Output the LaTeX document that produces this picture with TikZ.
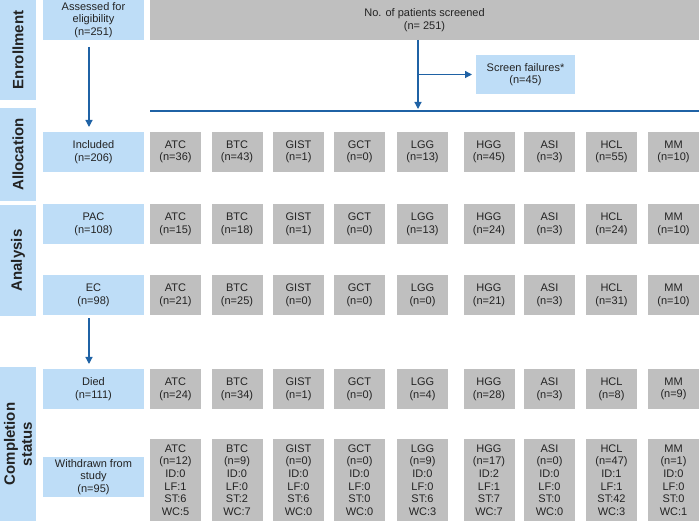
\documentclass[tikz,border=0pt]{standalone}
\usepackage{fontspec}
\setmainfont{Liberation Sans}
\usetikzlibrary{arrows.meta,positioning}
\definecolor{boxblue}{RGB}{190,221,247}
\definecolor{boxgray}{RGB}{191,191,191}
\definecolor{flowblue}{RGB}{31,98,165}
\definecolor{txt}{RGB}{35,35,35}

\begin{document}
\begin{tikzpicture}[x=1pt,y=-1pt,
  every node/.style={inner sep=0pt,outer sep=0pt,text=txt,font=\fontsize{11}{12.6}\selectfont},
  section/.style={rectangle,fill=boxblue,rotate=90,align=center,minimum height=36pt,font=\fontsize{15}{17}\selectfont\bfseries},
  stage/.style={rectangle,fill=boxblue,align=center,minimum width=101pt,minimum height=40pt},
  group/.style={rectangle,fill=boxgray,align=center,minimum width=51pt,minimum height=40pt},
  groupdetail/.style={group,minimum height=82pt},
  flow/.style={-{Triangle[length=7pt,width=7pt]},color=flowblue,line width=1.2pt},
  divider/.style={color=flowblue,line width=1.3pt}]
\useasboundingbox (0,0) rectangle (699,521);
% section bars
\node[section,minimum width=100pt] (enroll) at (18,50) {Enrollment};
\node[section,minimum width=93pt] (allocation) at (18,154.5) {Allocation};
\node[section,minimum width=111pt] (analysis) at (18,260.5) {Analysis};
\node[section,minimum width=154pt] (completion) at (18,444) {Completion\\status};
% enrollment
\node[stage] (assessed) at (93.5,20) {Assessed for\\eligibility\\(n=251)};
\node[group,minimum width=549pt] (screened) at (424.5,20) {No. of patients screened\\(n= 251)};
\node[stage,minimum width=99pt,minimum height=39pt] (failures) at (525.5,74.5) {Screen failures*\\(n=45)};
\coordinate (split) at (418,74.5);
\coordinate (alloc) at (418,111);
\coordinate (allocL) at (150,111);
\coordinate (allocR) at (699,111);
% stages
\node[stage] (included) at (93.5,152) {Included\\(n=206)};
\node[stage] (pac) at (93.5,224.5) {PAC\\(n=108)};
\node[stage] (ec) at (93.5,295.5) {EC\\(n=98)};
\node[stage] (died) at (93.5,389) {Died\\(n=111)};
\node[stage] (withdrawn) at (93.5,477) {Withdrawn from\\study\\(n=95)};
% included
\node[group] (incATC) at (175.5,152) {ATC\\(n=36)};
\node[group] (incBTC) at (237,152) {BTC\\(n=43)};
\node[group] (incGIST) at (298.5,152) {GIST\\(n=1)};
\node[group] (incGCT) at (359.5,152) {GCT\\(n=0)};
\node[group] (incLGG) at (422.5,152) {LGG\\(n=13)};
\node[group] (incHGG) at (489,152) {HGG\\(n=45)};
\node[group] (incASI) at (549.5,152) {ASI\\(n=3)};
\node[group] (incHCL) at (611.5,152) {HCL\\(n=55)};
\node[group] (incMM) at (673.5,152) {MM\\(n=10)};
% PAC
\node[group] (pacATC) at (175.5,224.5) {ATC\\(n=15)};
\node[group] (pacBTC) at (237,224.5) {BTC\\(n=18)};
\node[group] (pacGIST) at (298.5,224.5) {GIST\\(n=1)};
\node[group] (pacGCT) at (359.5,224.5) {GCT\\(n=0)};
\node[group] (pacLGG) at (422.5,224.5) {LGG\\(n=13)};
\node[group] (pacHGG) at (489,224.5) {HGG\\(n=24)};
\node[group] (pacASI) at (549.5,224.5) {ASI\\(n=3)};
\node[group] (pacHCL) at (611.5,224.5) {HCL\\(n=24)};
\node[group] (pacMM) at (673.5,224.5) {MM\\(n=10)};
% EC
\node[group] (ecATC) at (175.5,295.5) {ATC\\(n=21)};
\node[group] (ecBTC) at (237,295.5) {BTC\\(n=25)};
\node[group] (ecGIST) at (298.5,295.5) {GIST\\(n=0)};
\node[group] (ecGCT) at (359.5,295.5) {GCT\\(n=0)};
\node[group] (ecLGG) at (422.5,295.5) {LGG\\(n=0)};
\node[group] (ecHGG) at (489,295.5) {HGG\\(n=21)};
\node[group] (ecASI) at (549.5,295.5) {ASI\\(n=3)};
\node[group] (ecHCL) at (611.5,295.5) {HCL\\(n=31)};
\node[group] (ecMM) at (673.5,295.5) {MM\\(n=10)};
% died
\node[group] (diedATC) at (175.5,389) {ATC\\(n=24)};
\node[group] (diedBTC) at (237,389) {BTC\\(n=34)};
\node[group] (diedGIST) at (298.5,389) {GIST\\(n=1)};
\node[group] (diedGCT) at (359.5,389) {GCT\\(n=0)};
\node[group] (diedLGG) at (422.5,389) {LGG\\(n=4)};
\node[group] (diedHGG) at (489,389) {HGG\\(n=28)};
\node[group] (diedASI) at (549.5,389) {ASI\\(n=3)};
\node[group] (diedHCL) at (611.5,389) {HCL\\(n=8)};
\node[group] (diedMM) at (673.5,389) {MM\\(n=9)};
% withdrawn
\node[groupdetail] (wdATC) at (175.5,480) {ATC\\(n=12)\\ID:0\\LF:1\\ST:6\\WC:5};
\node[groupdetail] (wdBTC) at (237,480) {BTC\\(n=9)\\ID:0\\LF:0\\ST:2\\WC:7};
\node[groupdetail] (wdGIST) at (298.5,480) {GIST\\(n=0)\\ID:0\\LF:0\\ST:6\\WC:0};
\node[groupdetail] (wdGCT) at (359.5,480) {GCT\\(n=0)\\ID:0\\LF:0\\ST:0\\WC:0};
\node[groupdetail] (wdLGG) at (422.5,480) {LGG\\(n=9)\\ID:0\\LF:0\\ST:6\\WC:3};
\node[groupdetail] (wdHGG) at (489,480) {HGG\\(n=17)\\ID:2\\LF:1\\ST:7\\WC:7};
\node[groupdetail] (wdASI) at (549.5,480) {ASI\\(n=0)\\ID:0\\LF:0\\ST:0\\WC:0};
\node[groupdetail] (wdHCL) at (611.5,480) {HCL\\(n=47)\\ID:1\\LF:1\\ST:42\\WC:3};
\node[groupdetail] (wdMM) at (673.5,480) {MM\\(n=1)\\ID:0\\LF:0\\ST:0\\WC:1};
% connectors
\draw[flow] ([xshift=-4.5pt,yshift=-7pt]assessed.south) -- ([xshift=-4.5pt,yshift=5pt]included.north);
\draw[flow] (screened.south -| split) -- ([yshift=2pt]alloc);
\draw[flow] (split) -- ([xshift=-4pt]failures.west);
\draw[divider] (allocL) -- (allocR);
\draw[flow] ([xshift=-4.5pt,yshift=-3pt]ec.south) -- ([xshift=-4.5pt,yshift=5pt]died.north);
\end{tikzpicture}
\end{document}
